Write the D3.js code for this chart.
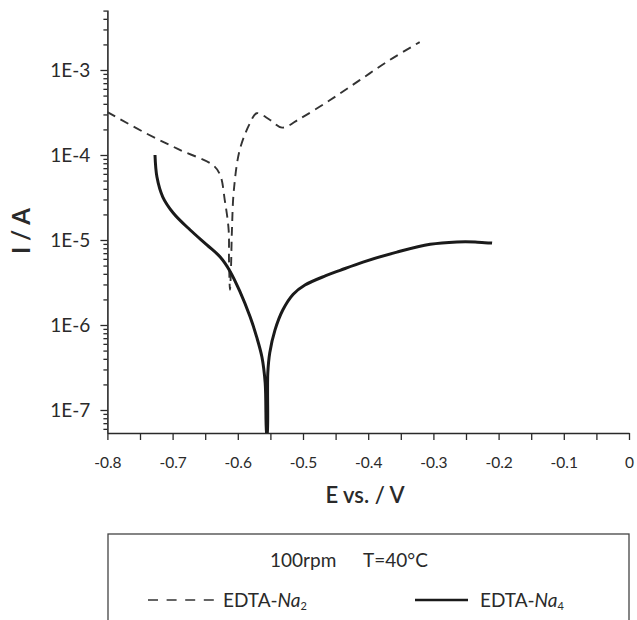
<!DOCTYPE html>
<html>
<head>
<meta charset="utf-8">
<script src="https://cdn.jsdelivr.net/npm/d3@7"></script>
<style>
  html, body { margin: 0; padding: 0; background: #fff; }
  svg { display: block; }
  text { font-family: Lato, "Open Sans", sans-serif; fill: #2a2a2a; }
</style>
</head>
<body>
<svg id="chart" width="637" height="620"></svg>
<script>
// ---------- data ----------
const xTickValues = [-0.8, -0.7, -0.6, -0.5, -0.4, -0.3, -0.2, -0.1, 0];
const xTickLabels = ["-0.8", "-0.7", "-0.6", "-0.5", "-0.4", "-0.3", "-0.2", "-0.1", "0"];
const xMinorTicks = [-0.75, -0.65, -0.55, -0.45, -0.35, -0.25, -0.15, -0.05];
const yTickValues = [1e-7, 1e-6, 1e-5, 1e-4, 1e-3];
const yTickLabels = ["1E-7", "1E-6", "1E-5", "1E-4", "1E-3"];

// EDTA-Na2 (dashed)
const na2E = [-0.800, -0.742, -0.689, -0.638, -0.627, -0.620, -0.614, -0.6135, -0.612,
              -0.6105, -0.609, -0.606, -0.597, -0.581, -0.571, -0.551, -0.532, -0.504,
              -0.459, -0.413, -0.367, -0.321];
const na2I = [3.2e-4, 1.82e-4, 1.15e-4, 7.6e-5, 5.8e-5, 2.95e-5, 1.3e-5, 5.8e-6, 2.6e-6,
              4.5e-6, 1.3e-5, 3.9e-5, 1.15e-4, 2.4e-4, 3.1e-4, 2.6e-4, 2.1e-4, 2.7e-4,
              4.4e-4, 7.6e-4, 1.31e-3, 2.13e-3];

// EDTA-Na4 (solid)
const na4E = [-0.727, -0.724, -0.715, -0.699, -0.673, -0.647, -0.627, -0.612, -0.597,
              -0.581, -0.571, -0.563, -0.558, -0.5555, -0.555, -0.554, -0.551, -0.543,
              -0.531, -0.515, -0.497, -0.465, -0.443, -0.408, -0.356, -0.305, -0.264,
              -0.236, -0.210];
const na4I = [1.0e-4, 5.5e-5, 3.2e-5, 2.08e-5, 1.31e-5, 8.7e-6, 6.3e-6, 4.3e-6, 2.5e-6,
              1.24e-6, 7.2e-7, 4.2e-7, 2.08e-7, 5.0e-8, 5.0e-8, 2.72e-7, 4.7e-7, 8.7e-7,
              1.5e-6, 2.3e-6, 2.95e-6, 3.8e-6, 4.4e-6, 5.5e-6, 7.2e-6, 8.9e-6, 9.5e-6,
              9.5e-6, 9.2e-6];

const legendSpeed = "100rpm";
const legendTemp = "T=40°C";

// ---------- layout ----------
const svg = d3.select("#chart");
const plotLeft = 107.4, plotRight = 629, plotTop = 10, plotBottom = 433;

const x = d3.scaleLinear().domain([-0.8, 0]).range([plotLeft, plotRight]);
const yRef = d3.scaleLog().domain([1e-7, 1e-3]).range([410, 70]);
const y = d3.scaleLog()
  .domain([yRef.invert(plotBottom), yRef.invert(plotTop)])
  .range([plotBottom, plotTop]);

svg.append("defs").append("clipPath").attr("id", "clip")
  .append("rect").attr("x", plotLeft).attr("y", plotTop)
  .attr("width", plotRight - plotLeft).attr("height", plotBottom - plotTop);

// ---------- axes ----------
const axisColor = "#2a2a2a";
const xAxis = d3.axisBottom(x)
  .tickValues(xTickValues.concat(xMinorTicks))
  .tickSize(7).tickSizeOuter(0).tickPadding(17)
  .tickFormat(d => {
    const i = xTickValues.findIndex(v => Math.abs(v - d) < 1e-9);
    return i >= 0 ? xTickLabels[i] : "";
  });
const gx = svg.append("g").attr("transform", `translate(0,${plotBottom})`).call(xAxis);

const yMinor = [];
const [ylo, yhi] = y.domain();
for (let e = -8; e <= -2; e++) {
  for (let m = 2; m <= 9; m++) {
    const v = m * Math.pow(10, e);
    if (v >= ylo && v <= yhi) yMinor.push(v);
  }
}
const gyMinor = svg.append("g").attr("transform", `translate(${plotLeft},0)`)
  .call(d3.axisLeft(y).tickValues(yMinor).tickSize(4).tickSizeOuter(0).tickFormat(""));
const yAxis = d3.axisLeft(y)
  .tickValues(yTickValues).tickSize(7).tickSizeOuter(0).tickPadding(10)
  .tickFormat((d, i) => yTickLabels[i]);
const gy = svg.append("g").attr("transform", `translate(${plotLeft},0)`).call(yAxis);

[gx, gy, gyMinor].forEach(g => {
  g.select(".domain").attr("stroke", axisColor).attr("stroke-width", 1.6);
  g.selectAll(".tick line").attr("stroke", axisColor).attr("stroke-width", 1.3);
  g.selectAll(".tick text").attr("font-family", "Lato, sans-serif").attr("fill", "#2a2a2a");
});
gx.selectAll(".tick text").attr("font-size", 15.5);
gy.selectAll(".tick text").attr("font-size", 19);
gyMinor.select(".domain").remove();

// ---------- curves ----------
const line = d3.line()
  .x(d => x(d[0])).y(d => y(d[1]))
  .curve(d3.curveCatmullRom.alpha(0.5));

const na2 = na2E.map((e, i) => [e, na2I[i]]);
const na4 = na4E.map((e, i) => [e, na4I[i]]);

svg.append("path").datum(na2)
  .attr("clip-path", "url(#clip)")
  .attr("d", line).attr("fill", "none")
  .attr("stroke", "#333").attr("stroke-width", 1.9)
  .attr("stroke-dasharray", "9,6");

svg.append("path").datum(na4)
  .attr("clip-path", "url(#clip)")
  .attr("d", line).attr("fill", "none")
  .attr("stroke", "#1a1a1a").attr("stroke-width", 3)
  .attr("stroke-linejoin", "round");

// ---------- axis titles ----------
svg.append("text")
  .attr("x", 365).attr("y", 503)
  .attr("text-anchor", "middle")
  .attr("font-size", 22).attr("font-weight", 600)
  .text("E vs. / V");

svg.append("text")
  .attr("transform", "translate(30,231) rotate(-90)")
  .attr("text-anchor", "middle")
  .attr("font-size", 24).attr("font-weight", 700)
  .text("I / A");

// ---------- legend ----------
const lg = svg.append("g");
lg.append("rect")
  .attr("x", 108).attr("y", 534).attr("width", 521).attr("height", 120)
  .attr("fill", "none").attr("stroke", "#444").attr("stroke-width", 1.3);

lg.append("text").attr("x", 270).attr("y", 567).attr("font-size", 19).text(legendSpeed);
lg.append("text").attr("x", 363).attr("y", 567).attr("font-size", 19).text(legendTemp);

lg.append("line").attr("x1", 148).attr("x2", 214).attr("y1", 600).attr("y2", 600)
  .attr("stroke", "#333").attr("stroke-width", 1.6).attr("stroke-dasharray", "10,8.6");
lg.append("line").attr("x1", 415).attr("x2", 468).attr("y1", 600).attr("y2", 600)
  .attr("stroke", "#1a1a1a").attr("stroke-width", 2.6);

function legendLabel(xPos, sub) {
  const t = lg.append("text").attr("x", xPos).attr("y", 607).attr("font-size", 19);
  t.append("tspan").text("EDTA-");
  t.append("tspan").attr("font-style", "italic").text("Na");
  t.append("tspan").attr("font-size", 11).attr("dy", 3).text(sub);
}
legendLabel(223, "2");
legendLabel(480, "4");
</script>
</body>
</html>
